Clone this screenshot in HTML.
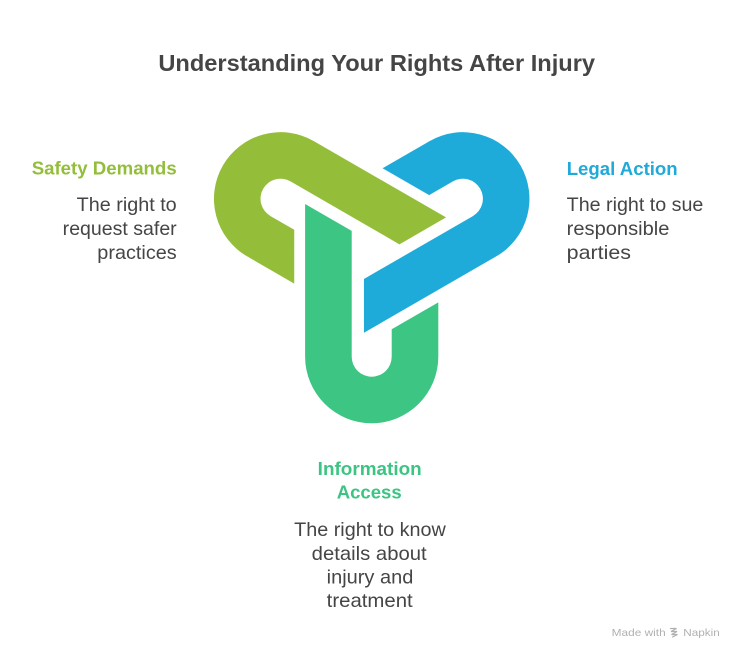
<!DOCTYPE html>
<html>
<head>
<meta charset="utf-8">
<style>
  html, body { margin: 0; padding: 0; background: #ffffff; }
  body { width: 744px; height: 660px; overflow: hidden; }
  svg { display: block; }
  text { font-family: "Liberation Sans", Arial, sans-serif; }
  .title { font-size: 23.5px; font-weight: bold; fill: #454545; }
  .head { font-size: 18.7px; font-weight: bold; }
  .body { font-size: 19.5px; fill: #454545; }
  .foot { font-size: 10.5px; fill: #b0b0b0; }
</style>
</head>
<body>
<svg width="744" height="660" viewBox="0 0 744 660" xmlns="http://www.w3.org/2000/svg">
  <rect width="744" height="660" fill="#ffffff"/>

  <!-- Title -->
  <text class="title" x="376.7" y="71" text-anchor="middle" textLength="436.7" lengthAdjust="spacingAndGlyphs">Understanding Your Rights After Injury</text>

  <!-- Interlocked shapes -->
  <defs>
    <path id="loop" d="M305.1,204 L351.7,230.9 L351.7,356.7 A20,20 0 0 0 391.7,356.7 L391.7,329.3 L438.3,302.4 L438.3,356.7 A66.6,66.6 0 0 1 305.1,356.7 Z"/>
  </defs>
  <use href="#loop" fill="#3DC583"/>
  <use href="#loop" fill="#94BE3A" transform="rotate(120 371.7 251.4)"/>
  <use href="#loop" fill="#1FABD9" transform="rotate(240 371.7 251.4)"/>

  <!-- Safety Demands (left) -->
  <text class="head" x="176.7" y="174.3" text-anchor="end" fill="#93BE3A" textLength="145" lengthAdjust="spacingAndGlyphs">Safety Demands</text>
  <text class="body" x="176.7" y="211" text-anchor="end" textLength="100" lengthAdjust="spacingAndGlyphs">The right to</text>
  <text class="body" x="176.7" y="235" text-anchor="end" textLength="114" lengthAdjust="spacingAndGlyphs">request safer</text>
  <text class="body" x="176.7" y="259" text-anchor="end" textLength="79.4" lengthAdjust="spacingAndGlyphs">practices</text>

  <!-- Legal Action (right) -->
  <text class="head" x="566.7" y="175" fill="#1FAAD9" textLength="111" lengthAdjust="spacingAndGlyphs">Legal Action</text>
  <text class="body" x="566.7" y="211" textLength="136.7" lengthAdjust="spacingAndGlyphs">The right to sue</text>
  <text class="body" x="566.7" y="235" textLength="102.7" lengthAdjust="spacingAndGlyphs">responsible</text>
  <text class="body" x="566.7" y="259" textLength="64.3" lengthAdjust="spacingAndGlyphs">parties</text>

  <!-- Information Access (bottom) -->
  <text class="head" x="369.7" y="475" text-anchor="middle" fill="#3CC483" textLength="104" lengthAdjust="spacingAndGlyphs">Information</text>
  <text class="head" x="369.2" y="498.5" text-anchor="middle" fill="#3CC483" textLength="65" lengthAdjust="spacingAndGlyphs">Access</text>
  <text class="body" x="370" y="536" text-anchor="middle" textLength="151.7" lengthAdjust="spacingAndGlyphs">The right to know</text>
  <text class="body" x="369.2" y="560" text-anchor="middle" textLength="115" lengthAdjust="spacingAndGlyphs">details about</text>
  <text class="body" x="370" y="583.5" text-anchor="middle" textLength="86.7" lengthAdjust="spacingAndGlyphs">injury and</text>
  <text class="body" x="369.7" y="607" text-anchor="middle" textLength="86" lengthAdjust="spacingAndGlyphs">treatment</text>

  <!-- Footer -->
  <text class="foot" x="611.7" y="636" textLength="54" lengthAdjust="spacingAndGlyphs">Made with</text>
  <g stroke="#b0b0b0" stroke-width="1.2" fill="none" stroke-linecap="round">
    <path d="M670.5,628.5 L676.5,628.5 L671,631.5 L677,631.5 L671.5,634.5 L677.5,634.5 L672.5,637"/>
  </g>
  <text class="foot" x="683.3" y="636" textLength="36.5" lengthAdjust="spacingAndGlyphs">Napkin</text>
</svg>
</body>
</html>
